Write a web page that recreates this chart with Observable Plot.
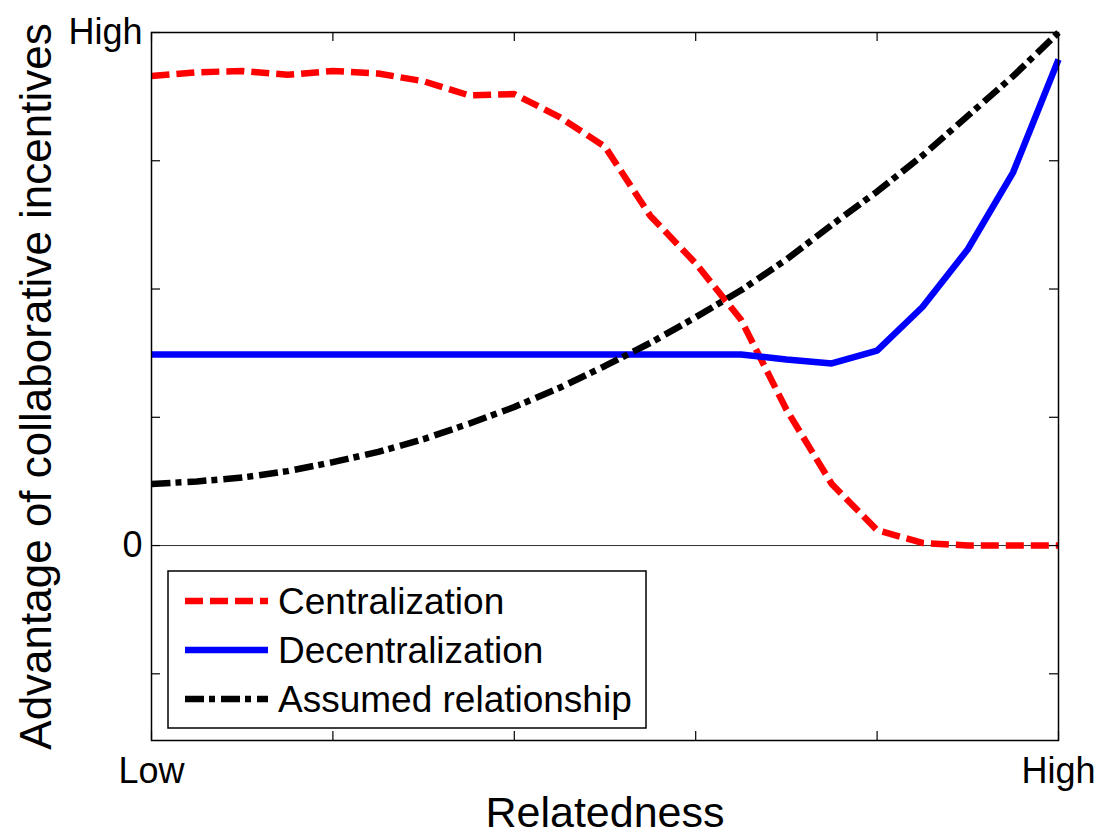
<!DOCTYPE html>
<html><head><meta charset="utf-8">
<script src="https://cdn.jsdelivr.net/npm/d3@7"></script>
<script src="https://cdn.jsdelivr.net/npm/@observablehq/plot@0.6"></script>
<style>body{margin:0;background:#fff} #chart svg{display:block}</style>
</head><body><div id="chart"></div>
<script>
// ---- data ----
const relatedness = [0,0.05,0.1,0.15,0.2,0.25,0.3,0.35,0.4,0.45,0.5,0.55,0.6,0.65,0.7,0.75,0.8,0.85,0.9,0.95,1];
const centralization = [3.66,3.69,3.70,3.67,3.70,3.68,3.62,3.51,3.52,3.34,3.11,2.57,2.20,1.76,1.06,0.48,0.12,0.02,0,0,0];
const decentralization = [1.49,1.49,1.49,1.49,1.49,1.49,1.49,1.49,1.49,1.49,1.49,1.49,1.49,1.49,1.45,1.42,1.52,1.86,2.31,2.91,3.79];
const assumed = [0.48,0.50,0.53,0.58,0.65,0.73,0.83,0.95,1.08,1.23,1.40,1.58,1.78,1.99,2.23,2.50,2.76,3.04,3.35,3.66,4.00];
const seriesNames = ["Centralization","Decentralization","Assumed relationship"];
const xTicks = [0,0.2,0.4,0.6,0.8,1];
const yTicks = [-1,0,1,2,3,4];
const xTickLabelValues = [0,1];
const xTickLabelTexts = ["Low","High"];
const yTickLabelValues = [0,4];
const yTickLabelTexts = ["0","High"];
const xLabel = "Relatedness";
const yLabel = "Advantage of collaborative incentives";

// ---- layout ----
const W=1101, H=835, mL=151, mR=43, mT=32, mB=95;
const xDom=[0,1], yDom=[-1.52,4];
const tickLen=9;
const dyT = tickLen*(yDom[1]-yDom[0])/(H-mT-mB);
const dxT = tickLen*(xDom[1]-xDom[0])/(W-mL-mR);
const font = "'Liberation Sans', Arial, Helvetica, sans-serif";

const toRows = vals => relatedness.map((r,i)=>({r, v: vals[i]}));
const cen = toRows(centralization), dec = toRows(decentralization), ass = toRows(assumed);

const svg = Plot.plot({
  width: W, height: H,
  marginLeft: mL, marginRight: mR, marginTop: mT, marginBottom: mB,
  x: {domain: xDom},
  y: {domain: yDom},
  style: {fontFamily: font, background: "white", color: "black"},
  marks: [
    Plot.ruleY([0], {stroke: "#333", strokeWidth: 1}),
    Plot.line(cen, {x:"r", y:"v", stroke:"#ff0000", strokeWidth:6.5, strokeDasharray:"18,7", strokeLinecap:"butt", strokeLinejoin:"miter"}),
    Plot.line(dec, {x:"r", y:"v", stroke:"#0000ff", strokeWidth:6.5, strokeLinecap:"butt", strokeLinejoin:"miter"}),
    Plot.line(ass, {x:"r", y:"v", stroke:"#000000", strokeWidth:6.5, strokeDasharray:"19,5,6,6", strokeLinecap:"butt", strokeLinejoin:"miter"}),
    Plot.frame({stroke:"#000", strokeWidth:1.5}),
    // inward ticks on all four sides
    Plot.ruleX(xTicks, {y1: yDom[0], y2: yDom[0]+dyT, stroke:"#000", strokeWidth:1.2}),
    Plot.ruleX(xTicks, {y1: yDom[1], y2: yDom[1]-dyT, stroke:"#000", strokeWidth:1.2}),
    Plot.ruleY(yTicks, {x1: xDom[0], x2: xDom[0]+dxT, stroke:"#000", strokeWidth:1.2}),
    Plot.ruleY(yTicks, {x1: xDom[1], x2: xDom[1]-dxT, stroke:"#000", strokeWidth:1.2}),
    Plot.axisX(xTickLabelValues, {anchor:"bottom", tickSize:0, tickPadding:17, fontSize:36, tickFormat: d => xTickLabelTexts[xTickLabelValues.indexOf(d)], label:null}),
    Plot.axisY(yTickLabelValues, {anchor:"left", tickSize:0, tickPadding:9, fontSize:36, tickFormat: d => yTickLabelTexts[yTickLabelValues.indexOf(d)], label:null}),
    Plot.text([xLabel], {text: d=>d, frameAnchor:"bottom", dy:73, fontSize:43, lineAnchor:"middle", textAnchor:"middle"}),
    Plot.text([yLabel], {text: d=>d, frameAnchor:"left", dx:-115, rotate:-90, fontSize:44, lineAnchor:"middle", textAnchor:"middle"})
  ]
});
document.getElementById("chart").appendChild(svg);

// ---- legend ----
const sel = d3.select(svg);
const g = sel.append("g").attr("font-family", font).attr("font-size", 37).attr("text-anchor","start");
g.append("rect").attr("x",168).attr("y",571).attr("width",478).attr("height",157)
  .attr("fill","white").attr("stroke","#000").attr("stroke-width",1.5);
const legendItems = [
  {name: seriesNames[0], stroke:"#ff0000", dash:"18,7", w:6.5},
  {name: seriesNames[1], stroke:"#0000ff", dash:null, w:6.5},
  {name: seriesNames[2], stroke:"#000000", dash:"19,5,6,6", w:6.5}
];
legendItems.forEach((d,i)=>{
  const cy = 601 + i*49;
  const ln = g.append("line").attr("x1",185).attr("x2",268).attr("y1",cy).attr("y2",cy)
    .attr("stroke",d.stroke).attr("stroke-width",d.w).attr("stroke-linecap","butt");
  if (d.dash) ln.attr("stroke-dasharray", d.dash);
  g.append("text").attr("x",278).attr("y",cy+13).attr("text-anchor","start").attr("fill","#000").text(d.name);
});
</script>
</body></html>
